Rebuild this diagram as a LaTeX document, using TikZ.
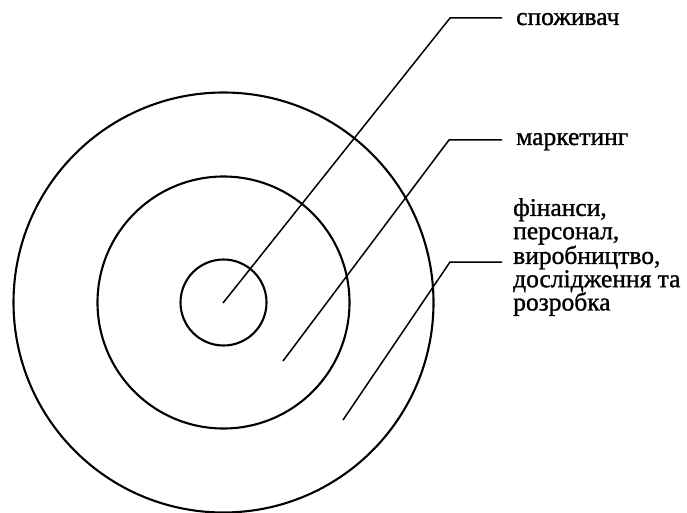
\documentclass[tikz,border=0pt]{standalone}
\usepackage{fontspec}
\setmainfont{Liberation Serif}
\newfontfamily\labfont[FakeBold=1.2]{Liberation Serif}
\begin{document}
\begin{tikzpicture}[x=1pt,y=-1pt,
  ring/.style={draw=black,line width=2.1pt},
  leader/.style={draw=black,line width=1.5pt,line join=miter},
  lab/.style={inner sep=0pt,font=\labfont\fontsize{25.5}{23.3}\selectfont,text=black}]
\useasboundingbox (0,0) rectangle (687,513);
\coordinate (c) at (223.5,302.5);
\draw[ring] (c) circle[radius=43];
\draw[ring] (c) circle[radius=126];
\draw[ring] (c) circle[radius=210];
\coordinate (p1) at (223,303);
\coordinate (k1) at (450,18);
\coordinate (e1) at (502,18);
\coordinate (p2) at (283,361);
\coordinate (k2) at (449,140);
\coordinate (e2) at (502,140);
\coordinate (p3) at (343,420);
\coordinate (k3) at (450,262);
\coordinate (e3) at (502,262);
\draw[leader] (p1) -- (k1) -- (e1);
\draw[leader] (p2) -- (k2) -- (e2);
\draw[leader] (p3) -- (k3) -- (e3);
\node[lab,anchor=base west] (t1) at (516,25) {споживач};
\node[lab,anchor=base west] (t2) at (516,145) {маркетинг};
\node[lab,anchor=north west,align=left] (t3) at (513,198) {фінанси,\\персонал,\\виробництво,\\дослідження та\\розробка};
\end{tikzpicture}
\end{document}
